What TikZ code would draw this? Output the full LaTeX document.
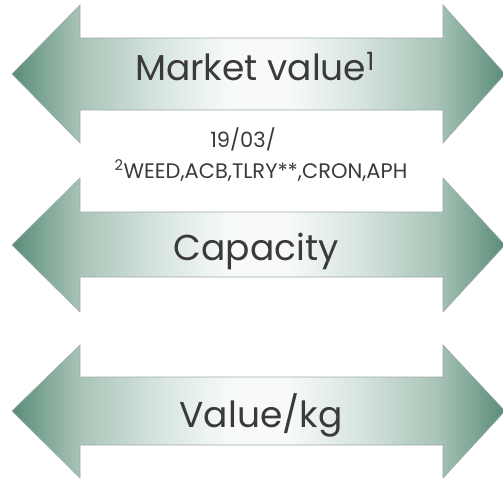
\documentclass[tikz,border=0pt]{standalone}
\usepackage{fontspec}
\setmainfont{Poppins}
\usetikzlibrary{positioning}
\definecolor{leafgreen}{HTML}{5A8D79}
\definecolor{sagegreen}{HTML}{A9C4B8}
\definecolor{mistgreen}{HTML}{D8E5DF}
\definecolor{palegreen}{HTML}{F7FAF8}
\definecolor{textgrey}{HTML}{3A3A3A}
\definecolor{edgegrey}{HTML}{9EABA5}
\pgfdeclarehorizontalshading{bandshade}{100bp}{color(0bp)=(leafgreen); color(25bp)=(leafgreen);
  color(32bp)=(sagegreen); color(40bp)=(mistgreen); color(47bp)=(palegreen); color(53bp)=(palegreen);
  color(60bp)=(mistgreen); color(68bp)=(sagegreen); color(75bp)=(leafgreen); color(100bp)=(leafgreen)}
\tikzset{band/.style={shading=bandshade, draw=edgegrey, line width=0.6pt}}
\tikzset{bigtext/.style={text=textgrey, font=\fontsize{36}{43}\selectfont, inner sep=0pt, anchor=base}}
\tikzset{smalltext/.style={text=textgrey, font=\fontsize{21}{25}\selectfont, inner sep=0pt, anchor=base}}

\begin{document}
\begin{tikzpicture}[x=1pt, y=-1pt]

  \newcommand\Tl{12};
  \newcommand\Bl{80};
  \newcommand\Br{443};
  \newcommand\Tr{505};

  \useasboundingbox (0,0) rectangle (503,479);
  \clip (0,0) rectangle (503,479);

  % market value
  \shadedraw[band] (\Tl,74) -- (\Bl,5) -- (\Bl,38) -- (\Br,38) -- (\Br,5) -- (\Tr,74)
  -- (\Br,143) -- (\Br,110) -- (\Bl,110) -- (\Bl,143) -- cycle;
  \node[bigtext] (market) at (255,80) {Market value\textsuperscript{1}};

  \node[smalltext] (date) at (243,147) {19/03/};
  \node[smalltext] (tickers) at (261,178) {\textsuperscript{2}WEED,ACB,TLRY**,CRON,APH};

  % capacity
  \shadedraw[band] (\Tl,245) -- (\Bl,178) -- (\Bl,212) -- (\Br,212) -- (\Br,178) -- (\Tr,245)
  -- (\Br,312) -- (\Br,277) -- (\Bl,277) -- (\Bl,312) -- cycle;
  \node[bigtext] (capacity) at (256,260) {Capacity};

  % value per kg
  \shadedraw[band] (\Tl,411) -- (\Bl,345) -- (\Bl,377) -- (\Br,377) -- (\Br,345) -- (\Tr,411)
  -- (\Br,478) -- (\Br,445) -- (\Bl,445) -- (\Bl,478) -- cycle;
  \node[bigtext] (valuekg) at (261,427) {Value/kg};

\end{tikzpicture}
\end{document}
